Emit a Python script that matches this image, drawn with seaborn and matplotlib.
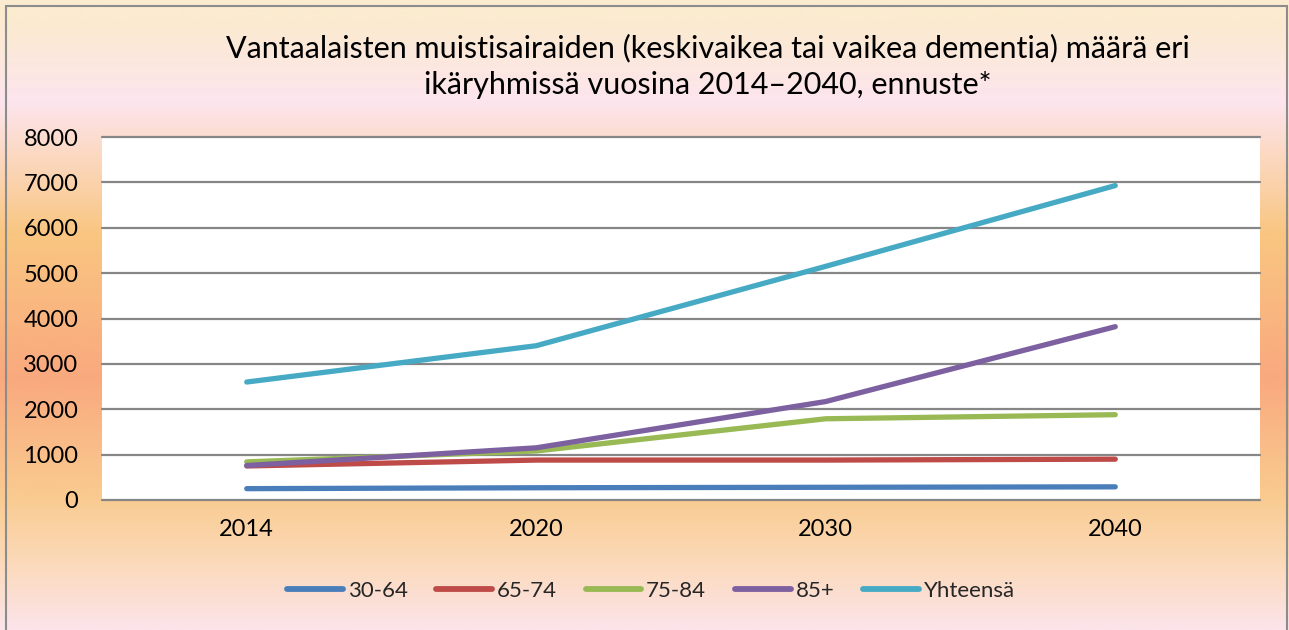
import numpy as np
import pandas as pd
import matplotlib
matplotlib.use("Agg")
import matplotlib.pyplot as plt
from matplotlib.colors import LinearSegmentedColormap
from matplotlib.patches import Rectangle
from matplotlib.lines import Line2D
import seaborn as sns

# ---- data ----
years = ["2014", "2020", "2030", "2040"]
series_names = ["30-64", "65-74", "75-84", "85+", "Yhteensä"]
v_30_64 = [250, 270, 280, 290]
v_65_74 = [750, 880, 880, 900]
v_75_84 = [840, 1080, 1790, 1880]
v_85 = [760, 1150, 2170, 3820]
v_total = [2600, 3400, 5150, 6930]
y_ticks = [0, 1000, 2000, 3000, 4000, 5000, 6000, 7000, 8000]
title_lines = ["Vantaalaisten muistisairaiden (keskivaikea tai vaikea dementia) määrä eri",
               "ikäryhmissä vuosina 2014\u20132040, ennuste*"]

colors = ["#4A7EBB", "#BE4B48", "#98B954", "#7D60A0", "#46AAC5"]

df = pd.DataFrame({
    "Vuosi": years * 5,
    "Sarja": [s for s in series_names for _ in years],
    "Arvo": v_30_64 + v_65_74 + v_75_84 + v_85 + v_total,
})

sns.set_theme(style="white")
plt.rcParams["font.family"] = ["Lato", "DejaVu Sans"]

W, H = 1289, 630
fig = plt.figure(figsize=(W / 100, H / 100), dpi=100)

# background gradient
bg = fig.add_axes([0, 0, 1, 1], zorder=-10)
stops = [(0.0, "#FBEBD0"), (0.03, "#FBEBCF"), (0.16, "#FDE5EE"), (0.37, "#F9C681"),
         (0.60, "#F9A97E"), (0.79, "#F9CB90"), (0.89, "#FBD9B8"), (1.0, "#FCE4EA")]
cmap = LinearSegmentedColormap.from_list("bg", stops)
grad = np.linspace(0, 1, 512).reshape(-1, 1)
bg.imshow(grad, cmap=cmap, aspect="auto", extent=[0, 1, 1, 0])
bg.set_xlim(0, 1); bg.set_ylim(1, 0)
bg.axis("off")

# outer frame
fig.patches.append(Rectangle((6 / W, -0.05), (1287 - 6) / W, 1 - 6 / H + 0.05,
                             transform=fig.transFigure, fill=False,
                             edgecolor="#8C8C8C", linewidth=1.5, zorder=5))

ax = fig.add_axes([102 / W, 1 - 500 / H, (1260 - 102) / W, (500 - 137) / H])
ax.set_facecolor("white")
sns.lineplot(data=df, x="Vuosi", y="Arvo", hue="Sarja", palette=colors,
             linewidth=3.8, sort=False, ax=ax, legend=False)
for ln in ax.lines:
    ln.set_solid_capstyle("round")

ax.set_xlim(-0.5, len(years) - 0.5)
ax.set_ylim(0, 8000)
ax.set_yticks(y_ticks)
ax.set_yticklabels([str(t) for t in y_ticks])
ax.set_xlabel("")
ax.set_ylabel("")
for t in y_ticks:
    ax.axhline(t, color="#868686", linewidth=1.6, zorder=0.5, clip_on=False)
for s in ax.spines.values():
    s.set_visible(False)
ax.tick_params(axis="y", length=0, pad=17, labelsize=17, labelcolor="black")
ax.tick_params(axis="x", length=0, pad=14, labelsize=17, labelcolor="black")

fig.text(708 / W, 1 - 48 / H, title_lines[0], ha="center", va="center", fontsize=22, color="black")
fig.text(708 / W, 1 - 85 / H, title_lines[1], ha="center", va="center", fontsize=22, color="black")

handles = [Line2D([], [], color=c, linewidth=4.2, solid_capstyle="round") for c in colors]
leg = fig.legend(handles, series_names, loc="center", bbox_to_anchor=(651 / W, 1 - 591 / H),
                 ncol=5, frameon=False, handlelength=2.5, handletextpad=0.22,
                 columnspacing=1.3, prop={"size": 16})

fig.savefig("out.png", dpi=100)
